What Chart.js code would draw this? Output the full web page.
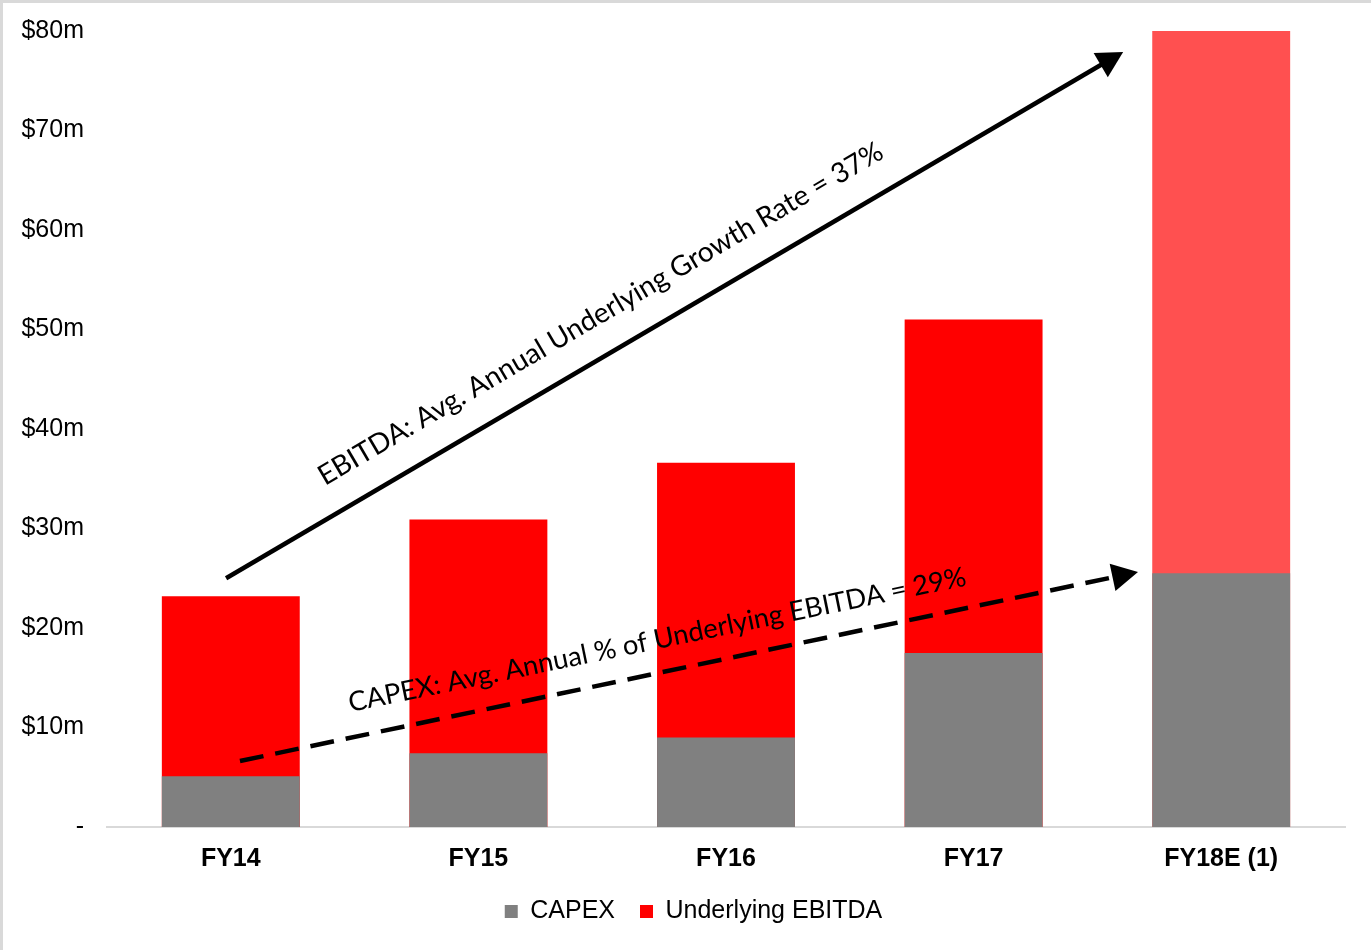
<!DOCTYPE html>
<html>
<head>
<meta charset="utf-8">
<script src="https://cdn.jsdelivr.net/npm/chart.js@4.4.1/dist/chart.umd.min.js"></script>
<style>
  html, body { margin: 0; padding: 0; background: #fff; }
  #wrap { width: 1371px; height: 950px; }
</style>
</head>
<body>
<div id="wrap"><canvas id="myChart" width="1371" height="950"></canvas></div>
<script>
const years = ['FY14', 'FY15', 'FY16', 'FY17', 'FY18E (1)'];
const capex = [5.1, 7.4, 9.0, 17.5, 25.5];
const ebitda = [23.2, 30.9, 36.6, 51.0, 80.0];
const yTicks = [0, 10, 20, 30, 40, 50, 60, 70, 80];

// arrows and labels, in data units (category index, $m)
const notes = [
    { from: [-0.019, 25.0], to: [3.604, 77.9], dash: [],
      text: 'EBITDA: Avg. Annual Underlying Growth Rate = 37%', at: [0.380, 34.27], textWidth: 650, angle: null },
    { from: [0.037, 6.63], to: [3.664, 25.63], dash: [24, 12],
      text: 'CAPEX: Avg. Annual % of Underlying EBITDA = 29%', at: [0.483, 11.56], textWidth: 630, angle: -11.6 }
];

const arrowPlugin = {
    id: 'arrows',
    afterLayout(chart) {
        // legend sits a little right of centre in the original
        chart.legend.left += 21;
        chart.legend.right += 21;
    },
    beforeDraw(chart) {
        const c = chart.ctx;
        c.save();
        c.strokeStyle = '#d9d9d9';
        c.lineWidth = 3;
        c.beginPath();
        c.moveTo(1.5, chart.height);
        c.lineTo(1.5, 1.5);
        c.lineTo(chart.width, 1.5);
        c.stroke();
        c.restore();
    },
    afterDatasetsDraw(chart) {
        const c = chart.ctx;
        const x = chart.scales.x, y = chart.scales.y;
        notes.forEach(n => {
            const x1 = x.getPixelForValue(n.from[0]), y1 = y.getPixelForValue(n.from[1]);
            const x2 = x.getPixelForValue(n.to[0]), y2 = y.getPixelForValue(n.to[1]);
            const a = Math.atan2(y2 - y1, x2 - x1);
            const head = 26, half = 14;
            c.save();
            c.strokeStyle = '#000';
            c.fillStyle = '#000';
            c.lineWidth = 4.5;
            c.setLineDash(n.dash);
            c.beginPath();
            c.moveTo(x1, y1);
            c.lineTo(x2 - (head - 2) * Math.cos(a), y2 - (head - 2) * Math.sin(a));
            c.stroke();
            c.setLineDash([]);
            c.beginPath();
            c.moveTo(x2, y2);
            c.lineTo(x2 - head * Math.cos(a) + half * Math.sin(a), y2 - head * Math.sin(a) - half * Math.cos(a));
            c.lineTo(x2 - head * Math.cos(a) - half * Math.sin(a), y2 - head * Math.sin(a) + half * Math.cos(a));
            c.closePath();
            c.fill();

            // label along the arrow
            const tx = x.getPixelForValue(n.at[0]), ty = y.getPixelForValue(n.at[1]);
            c.font = '24px Lato';
            const size = 24 * n.textWidth / c.measureText(n.text).width;
            c.font = size.toFixed(2) + 'px Lato';
            c.translate(tx, ty);
            c.rotate(n.angle === null ? a : n.angle * Math.PI / 180);
            c.textAlign = 'left';
            c.textBaseline = 'alphabetic';
            c.fillText(n.text, 0, 0);
            c.restore();
        });
    }
};

Chart.defaults.font.family = '"Liberation Sans", Arial, sans-serif';
Chart.defaults.color = '#000';

const ctx = document.getElementById('myChart').getContext('2d');
const myChart = new Chart(ctx, {
    type: 'bar',
    data: {
        labels: years,
        datasets: [{
            label: 'CAPEX',
            data: capex,
            backgroundColor: '#808080',
            categoryPercentage: 0.557,
            barPercentage: 1
        }, {
            label: 'Underlying EBITDA',
            data: ebitda,
            backgroundColor: ['#ff0000', '#ff0000', '#ff0000', '#ff0000', '#ff5050'],
            categoryPercentage: 0.557,
            barPercentage: 1
        }]
    },
    options: {
        responsive: false,
        animation: false,
        layout: { padding: { top: 31, right: 26, left: 0, bottom: 16 } },
        plugins: {
            tooltip: { enabled: false },
            legend: {
                position: 'bottom',
                labels: {
                    boxWidth: 13,
                    boxHeight: 13,
                    padding: 25,
                    font: { size: 25 },
                    generateLabels(chart) {
                        return chart.data.datasets.map((d, i) => ({
                            text: d.label,
                            fillStyle: i === 0 ? '#808080' : '#ff0000',
                            strokeStyle: 'rgba(0,0,0,0)',
                            lineWidth: 0,
                            datasetIndex: i
                        }));
                    }
                }
            }
        },
        scales: {
            x: {
                stacked: true,
                afterFit(scale) { scale.height = 47; },
                grid: { display: false, drawTicks: false },
                border: { display: true, color: '#d9d9d9', width: 2 },
                ticks: { font: { size: 25, weight: 'bold' }, padding: 17 }
            },
            y: {
                min: 0,
                max: 80,
                afterBuildTicks(scale) {
                    scale.ticks = yTicks.map(v => ({ value: v }));
                },
                afterFit(scale) { scale.width = 107; },
                grid: { display: false, drawTicks: true, tickLength: 23 },
                border: { display: false },
                ticks: {
                    font: { size: 25 },
                    padding: 0,
                    callback: v => v === 0 ? '-' : '$' + v + 'm'
                }
            }
        }
    },
    plugins: [arrowPlugin]
});
</script>
</body>
</html>
